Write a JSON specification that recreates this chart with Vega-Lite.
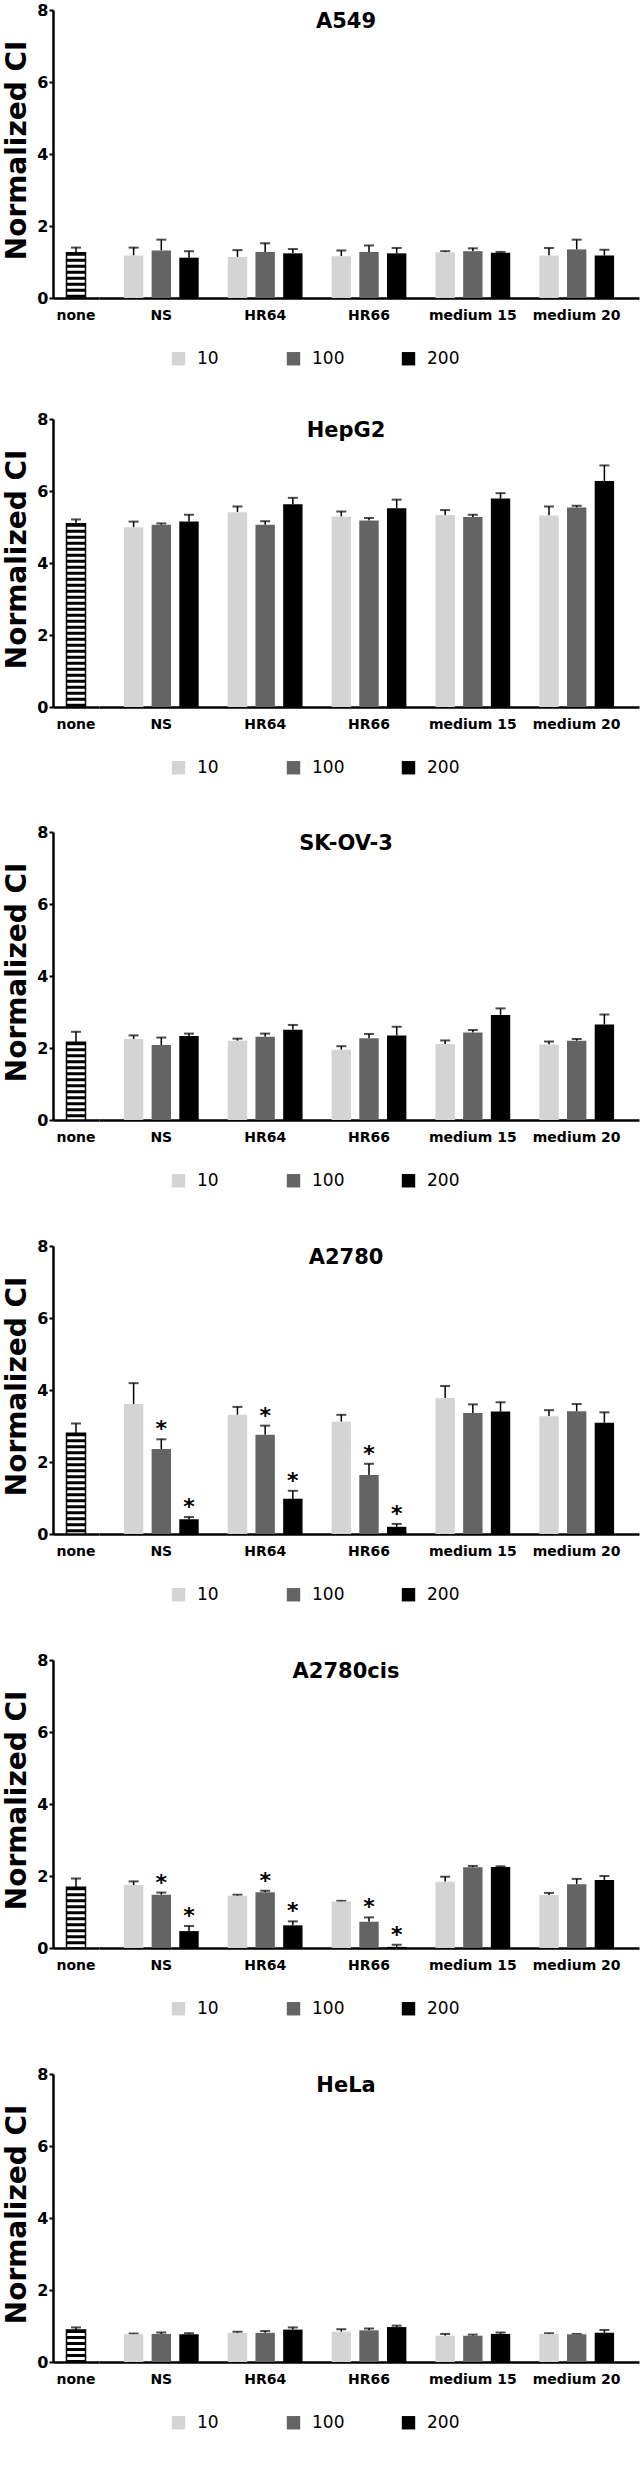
{
  "$schema": "https://vega.github.io/schema/vega-lite/v6.json",
  "padding": {"left": 3, "top": 2, "right": 2, "bottom": 2},
  "config": {
    "font": "DejaVu Sans",
    "view": {"stroke": null},
    "axis": {"domainColor": "#000", "domainWidth": 2.5, "tickColor": "#000", "tickWidth": 2, "labelColor": "#000", "labelFont": "DejaVu Sans", "labelFontWeight": "bold", "grid": false},
    "axisX": {"labelAngle": 0, "ticks": false, "labelPadding": 10, "labelFontSize": 14},
    "axisY": {"tickSize": 4, "labelPadding": 1, "labelFontSize": 16},
    "scale": {"bandPaddingInner": 0.25, "bandPaddingOuter": 0.125, "offsetBandPaddingInner": 0.3, "offsetBandPaddingOuter": 0.15},
    "legend": {"orient": "none", "legendX": 71, "legendY": 340, "direction": "horizontal", "columns": 3, "gridAlign": "all", "columnPadding": 55, "symbolType": "square", "symbolSize": 180, "symbolStrokeWidth": 0, "labelOffset": 10, "labelFont": "DejaVu Sans", "labelFontSize": 17, "labelColor": "#000"}
  },
  "datasets": {
    "ci": [
      {"cell": "A549", "group": "none", "dose": "none", "mean": 1.26, "upper": 1.40},
      {"cell": "A549", "group": "NS", "dose": "10", "mean": 1.18, "upper": 1.40},
      {"cell": "A549", "group": "NS", "dose": "100", "mean": 1.32, "upper": 1.62},
      {"cell": "A549", "group": "NS", "dose": "200", "mean": 1.12, "upper": 1.30},
      {"cell": "A549", "group": "HR64", "dose": "10", "mean": 1.14, "upper": 1.33},
      {"cell": "A549", "group": "HR64", "dose": "100", "mean": 1.28, "upper": 1.52},
      {"cell": "A549", "group": "HR64", "dose": "200", "mean": 1.24, "upper": 1.36},
      {"cell": "A549", "group": "HR66", "dose": "10", "mean": 1.16, "upper": 1.32},
      {"cell": "A549", "group": "HR66", "dose": "100", "mean": 1.28, "upper": 1.46},
      {"cell": "A549", "group": "HR66", "dose": "200", "mean": 1.24, "upper": 1.39},
      {"cell": "A549", "group": "medium 15", "dose": "10", "mean": 1.27, "upper": 1.30},
      {"cell": "A549", "group": "medium 15", "dose": "100", "mean": 1.30, "upper": 1.38},
      {"cell": "A549", "group": "medium 15", "dose": "200", "mean": 1.26, "upper": 1.28},
      {"cell": "A549", "group": "medium 20", "dose": "10", "mean": 1.18, "upper": 1.39},
      {"cell": "A549", "group": "medium 20", "dose": "100", "mean": 1.35, "upper": 1.62},
      {"cell": "A549", "group": "medium 20", "dose": "200", "mean": 1.18, "upper": 1.34},

      {"cell": "HepG2", "group": "none", "dose": "none", "mean": 5.09, "upper": 5.21},
      {"cell": "HepG2", "group": "NS", "dose": "10", "mean": 4.99, "upper": 5.15},
      {"cell": "HepG2", "group": "NS", "dose": "100", "mean": 5.06, "upper": 5.10},
      {"cell": "HepG2", "group": "NS", "dose": "200", "mean": 5.15, "upper": 5.34},
      {"cell": "HepG2", "group": "HR64", "dose": "10", "mean": 5.41, "upper": 5.57},
      {"cell": "HepG2", "group": "HR64", "dose": "100", "mean": 5.06, "upper": 5.16},
      {"cell": "HepG2", "group": "HR64", "dose": "200", "mean": 5.63, "upper": 5.81},
      {"cell": "HepG2", "group": "HR66", "dose": "10", "mean": 5.29, "upper": 5.43},
      {"cell": "HepG2", "group": "HR66", "dose": "100", "mean": 5.18, "upper": 5.25},
      {"cell": "HepG2", "group": "HR66", "dose": "200", "mean": 5.52, "upper": 5.76},
      {"cell": "HepG2", "group": "medium 15", "dose": "10", "mean": 5.33, "upper": 5.47},
      {"cell": "HepG2", "group": "medium 15", "dose": "100", "mean": 5.28, "upper": 5.34},
      {"cell": "HepG2", "group": "medium 15", "dose": "200", "mean": 5.79, "upper": 5.94},
      {"cell": "HepG2", "group": "medium 20", "dose": "10", "mean": 5.32, "upper": 5.57},
      {"cell": "HepG2", "group": "medium 20", "dose": "100", "mean": 5.54, "upper": 5.59},
      {"cell": "HepG2", "group": "medium 20", "dose": "200", "mean": 6.28, "upper": 6.71},

      {"cell": "SK-OV-3", "group": "none", "dose": "none", "mean": 2.16, "upper": 2.45},
      {"cell": "SK-OV-3", "group": "NS", "dose": "10", "mean": 2.25, "upper": 2.35},
      {"cell": "SK-OV-3", "group": "NS", "dose": "100", "mean": 2.08, "upper": 2.29},
      {"cell": "SK-OV-3", "group": "NS", "dose": "200", "mean": 2.33, "upper": 2.40},
      {"cell": "SK-OV-3", "group": "HR64", "dose": "10", "mean": 2.20, "upper": 2.26},
      {"cell": "SK-OV-3", "group": "HR64", "dose": "100", "mean": 2.31, "upper": 2.40},
      {"cell": "SK-OV-3", "group": "HR64", "dose": "200", "mean": 2.51, "upper": 2.64},
      {"cell": "SK-OV-3", "group": "HR66", "dose": "10", "mean": 1.95, "upper": 2.05},
      {"cell": "SK-OV-3", "group": "HR66", "dose": "100", "mean": 2.27, "upper": 2.39},
      {"cell": "SK-OV-3", "group": "HR66", "dose": "200", "mean": 2.35, "upper": 2.59},
      {"cell": "SK-OV-3", "group": "medium 15", "dose": "10", "mean": 2.11, "upper": 2.21},
      {"cell": "SK-OV-3", "group": "medium 15", "dose": "100", "mean": 2.43, "upper": 2.50},
      {"cell": "SK-OV-3", "group": "medium 15", "dose": "200", "mean": 2.92, "upper": 3.10},
      {"cell": "SK-OV-3", "group": "medium 20", "dose": "10", "mean": 2.10, "upper": 2.18},
      {"cell": "SK-OV-3", "group": "medium 20", "dose": "100", "mean": 2.20, "upper": 2.25},
      {"cell": "SK-OV-3", "group": "medium 20", "dose": "200", "mean": 2.65, "upper": 2.93},

      {"cell": "A2780", "group": "none", "dose": "none", "mean": 2.80, "upper": 3.07},
      {"cell": "A2780", "group": "NS", "dose": "10", "mean": 3.61, "upper": 4.19},
      {"cell": "A2780", "group": "NS", "dose": "100", "mean": 2.36, "upper": 2.63, "sig": "*"},
      {"cell": "A2780", "group": "NS", "dose": "200", "mean": 0.41, "upper": 0.47, "sig": "*"},
      {"cell": "A2780", "group": "HR64", "dose": "10", "mean": 3.31, "upper": 3.53},
      {"cell": "A2780", "group": "HR64", "dose": "100", "mean": 2.76, "upper": 3.01, "sig": "*"},
      {"cell": "A2780", "group": "HR64", "dose": "200", "mean": 0.98, "upper": 1.20, "sig": "*"},
      {"cell": "A2780", "group": "HR66", "dose": "10", "mean": 3.12, "upper": 3.31},
      {"cell": "A2780", "group": "HR66", "dose": "100", "mean": 1.64, "upper": 1.95, "sig": "*"},
      {"cell": "A2780", "group": "HR66", "dose": "200", "mean": 0.20, "upper": 0.28, "sig": "*"},
      {"cell": "A2780", "group": "medium 15", "dose": "10", "mean": 3.78, "upper": 4.11},
      {"cell": "A2780", "group": "medium 15", "dose": "100", "mean": 3.36, "upper": 3.60},
      {"cell": "A2780", "group": "medium 15", "dose": "200", "mean": 3.40, "upper": 3.66},
      {"cell": "A2780", "group": "medium 20", "dose": "10", "mean": 3.27, "upper": 3.44},
      {"cell": "A2780", "group": "medium 20", "dose": "100", "mean": 3.41, "upper": 3.61},
      {"cell": "A2780", "group": "medium 20", "dose": "200", "mean": 3.09, "upper": 3.38},

      {"cell": "A2780cis", "group": "none", "dose": "none", "mean": 1.69, "upper": 1.93},
      {"cell": "A2780cis", "group": "NS", "dose": "10", "mean": 1.75, "upper": 1.85},
      {"cell": "A2780cis", "group": "NS", "dose": "100", "mean": 1.48, "upper": 1.54, "sig": "*"},
      {"cell": "A2780cis", "group": "NS", "dose": "200", "mean": 0.47, "upper": 0.61, "sig": "*"},
      {"cell": "A2780cis", "group": "HR64", "dose": "10", "mean": 1.45, "upper": 1.48},
      {"cell": "A2780cis", "group": "HR64", "dose": "100", "mean": 1.55, "upper": 1.59, "sig": "*"},
      {"cell": "A2780cis", "group": "HR64", "dose": "200", "mean": 0.63, "upper": 0.74, "sig": "*"},
      {"cell": "A2780cis", "group": "HR66", "dose": "10", "mean": 1.29, "upper": 1.31},
      {"cell": "A2780cis", "group": "HR66", "dose": "100", "mean": 0.73, "upper": 0.85, "sig": "*"},
      {"cell": "A2780cis", "group": "HR66", "dose": "200", "mean": 0.03, "upper": 0.09, "sig": "*"},
      {"cell": "A2780cis", "group": "medium 15", "dose": "10", "mean": 1.84, "upper": 1.98},
      {"cell": "A2780cis", "group": "medium 15", "dose": "100", "mean": 2.24, "upper": 2.28},
      {"cell": "A2780cis", "group": "medium 15", "dose": "200", "mean": 2.25, "upper": 2.27},
      {"cell": "A2780cis", "group": "medium 20", "dose": "10", "mean": 1.47, "upper": 1.53},
      {"cell": "A2780cis", "group": "medium 20", "dose": "100", "mean": 1.77, "upper": 1.92},
      {"cell": "A2780cis", "group": "medium 20", "dose": "200", "mean": 1.89, "upper": 2.00},

      {"cell": "HeLa", "group": "none", "dose": "none", "mean": 0.89, "upper": 0.96},
      {"cell": "HeLa", "group": "NS", "dose": "10", "mean": 0.77, "upper": 0.79},
      {"cell": "HeLa", "group": "NS", "dose": "100", "mean": 0.78, "upper": 0.82},
      {"cell": "HeLa", "group": "NS", "dose": "200", "mean": 0.77, "upper": 0.80},
      {"cell": "HeLa", "group": "HR64", "dose": "10", "mean": 0.81, "upper": 0.84},
      {"cell": "HeLa", "group": "HR64", "dose": "100", "mean": 0.81, "upper": 0.86},
      {"cell": "HeLa", "group": "HR64", "dose": "200", "mean": 0.90, "upper": 0.96},
      {"cell": "HeLa", "group": "HR66", "dose": "10", "mean": 0.84, "upper": 0.91},
      {"cell": "HeLa", "group": "HR66", "dose": "100", "mean": 0.88, "upper": 0.93},
      {"cell": "HeLa", "group": "HR66", "dose": "200", "mean": 0.97, "upper": 1.01},
      {"cell": "HeLa", "group": "medium 15", "dose": "10", "mean": 0.73, "upper": 0.78},
      {"cell": "HeLa", "group": "medium 15", "dose": "100", "mean": 0.73, "upper": 0.76},
      {"cell": "HeLa", "group": "medium 15", "dose": "200", "mean": 0.78, "upper": 0.82},
      {"cell": "HeLa", "group": "medium 20", "dose": "10", "mean": 0.78, "upper": 0.80},
      {"cell": "HeLa", "group": "medium 20", "dose": "100", "mean": 0.77, "upper": 0.78},
      {"cell": "HeLa", "group": "medium 20", "dose": "200", "mean": 0.81, "upper": 0.89}
    ]
  },
  "spacing": 48,
  "resolve": {"scale": {"x": "independent", "y": "independent", "xOffset": "independent", "color": "independent"}, "legend": {"color": "independent"}},
  "vconcat": [
    {
      "spacing": 44,
      "resolve": {"scale": {"x": "independent", "y": "independent", "xOffset": "independent", "color": "independent"}, "legend": {"color": "independent"}},
      "vconcat": [
        {
          "spacing": 0,
          "resolve": {"scale": {"x": "independent", "y": "independent", "xOffset": "independent", "color": "independent"}},
          "hconcat": [
            {
              "width": 46, "height": 288,
              "data": {"name": "ci"},
              "transform": [{"filter": "datum.cell == 'A549' && datum.group == 'none'"}],
              "encoding": {
                "x": {"field": "group", "type": "nominal", "axis": {"title": null}},
                "y": {"field": "mean", "type": "quantitative", "title": null, "scale": {"domain": [0, 8], "nice": false}, "axis": {"values": [0, 2, 4, 6, 8]}}
              },
              "layer": [
                {"mark": {"type": "rule", "color": "#000", "strokeWidth": 1.5}, "encoding": {"y2": {"field": "upper"}}},
                {"mark": {"type": "tick", "color": "#000", "thickness": 2, "size": 10}, "encoding": {"y": {"field": "upper", "type": "quantitative", "title": null, "axis": {"values": [0, 2, 4, 6, 8]}}}},
                {"mark": {"type": "bar", "fill": "#fff", "stroke": "#000", "strokeWidth": 1.5, "width": 19}},
                {"mark": {"type": "rule", "color": "#000", "strokeWidth": 18, "strokeDash": [3, 3], "strokeCap": "butt"}, "encoding": {"y2": {"datum": 0}}},
                {"mark": {"type": "text", "text": "Normalized CI", "angle": 270, "fontSize": 28, "fontWeight": "bold", "align": "center", "baseline": "middle", "dy": -58, "color": "#000"}, "encoding": {"y": {"datum": 4.1}}}
              ]
            },
            {
              "width": 540, "height": 288,
              "data": {"name": "ci"},
              "transform": [{"filter": "datum.cell == 'A549' && datum.group != 'none'"}],
              "encoding": {
                "x": {"field": "group", "type": "nominal", "sort": ["NS", "HR64", "HR66", "medium 15", "medium 20"], "axis": {"title": null}},
                "xOffset": {"field": "dose", "type": "nominal", "sort": ["10", "100", "200"]},
                "y": {"field": "mean", "type": "quantitative", "scale": {"domain": [0, 8], "nice": false}, "axis": null}
              },
              "layer": [
                {"mark": {"type": "rule", "color": "#000", "strokeWidth": 1.5}, "encoding": {"y2": {"field": "upper"}}},
                {"mark": {"type": "tick", "color": "#000", "thickness": 2, "size": 10}, "encoding": {"y": {"field": "upper", "type": "quantitative", "axis": null}}},
                {"mark": {"type": "bar"}, "encoding": {"color": {"field": "dose", "type": "nominal", "scale": {"domain": ["10", "100", "200"], "range": ["#d4d4d4", "#646464", "#000000"]}, "legend": {"title": null}}}},
                {"transform": [{"filter": "datum.sig == '*'"}], "mark": {"type": "text", "fontSize": 22, "fontWeight": "bold", "baseline": "middle", "dy": -10, "color": "#000"}, "encoding": {"y": {"field": "upper", "type": "quantitative", "axis": null}, "text": {"field": "sig"}}},
                {"transform": [{"filter": "datum.group == 'HR66' && datum.dose == '100'"}], "mark": {"type": "text", "text": "A549", "fontSize": 21, "fontWeight": "bold", "baseline": "middle", "dx": -23, "color": "#000"}, "encoding": {"y": {"datum": 7.67}}}
              ]
            }
          ]
        },
        {
          "spacing": 0,
          "resolve": {"scale": {"x": "independent", "y": "independent", "xOffset": "independent", "color": "independent"}},
          "hconcat": [
            {
              "width": 46, "height": 288,
              "data": {"name": "ci"},
              "transform": [{"filter": "datum.cell == 'HepG2' && datum.group == 'none'"}],
              "encoding": {
                "x": {"field": "group", "type": "nominal", "axis": {"title": null}},
                "y": {"field": "mean", "type": "quantitative", "title": null, "scale": {"domain": [0, 8], "nice": false}, "axis": {"values": [0, 2, 4, 6, 8]}}
              },
              "layer": [
                {"mark": {"type": "rule", "color": "#000", "strokeWidth": 1.5}, "encoding": {"y2": {"field": "upper"}}},
                {"mark": {"type": "tick", "color": "#000", "thickness": 2, "size": 10}, "encoding": {"y": {"field": "upper", "type": "quantitative", "title": null, "axis": {"values": [0, 2, 4, 6, 8]}}}},
                {"mark": {"type": "bar", "fill": "#fff", "stroke": "#000", "strokeWidth": 1.5, "width": 19}},
                {"mark": {"type": "rule", "color": "#000", "strokeWidth": 18, "strokeDash": [3, 3], "strokeCap": "butt"}, "encoding": {"y2": {"datum": 0}}},
                {"mark": {"type": "text", "text": "Normalized CI", "angle": 270, "fontSize": 28, "fontWeight": "bold", "align": "center", "baseline": "middle", "dy": -58, "color": "#000"}, "encoding": {"y": {"datum": 4.1}}}
              ]
            },
            {
              "width": 540, "height": 288,
              "data": {"name": "ci"},
              "transform": [{"filter": "datum.cell == 'HepG2' && datum.group != 'none'"}],
              "encoding": {
                "x": {"field": "group", "type": "nominal", "sort": ["NS", "HR64", "HR66", "medium 15", "medium 20"], "axis": {"title": null}},
                "xOffset": {"field": "dose", "type": "nominal", "sort": ["10", "100", "200"]},
                "y": {"field": "mean", "type": "quantitative", "scale": {"domain": [0, 8], "nice": false}, "axis": null}
              },
              "layer": [
                {"mark": {"type": "rule", "color": "#000", "strokeWidth": 1.5}, "encoding": {"y2": {"field": "upper"}}},
                {"mark": {"type": "tick", "color": "#000", "thickness": 2, "size": 10}, "encoding": {"y": {"field": "upper", "type": "quantitative", "axis": null}}},
                {"mark": {"type": "bar"}, "encoding": {"color": {"field": "dose", "type": "nominal", "scale": {"domain": ["10", "100", "200"], "range": ["#d4d4d4", "#646464", "#000000"]}, "legend": {"title": null}}}},
                {"transform": [{"filter": "datum.sig == '*'"}], "mark": {"type": "text", "fontSize": 22, "fontWeight": "bold", "baseline": "middle", "dy": -10, "color": "#000"}, "encoding": {"y": {"field": "upper", "type": "quantitative", "axis": null}, "text": {"field": "sig"}}},
                {"transform": [{"filter": "datum.group == 'HR66' && datum.dose == '100'"}], "mark": {"type": "text", "text": "HepG2", "fontSize": 21, "fontWeight": "bold", "baseline": "middle", "dx": -23, "color": "#000"}, "encoding": {"y": {"datum": 7.67}}}
              ]
            }
          ]
        }
      ]
    },
    {
      "spacing": 49,
      "resolve": {"scale": {"x": "independent", "y": "independent", "xOffset": "independent", "color": "independent"}, "legend": {"color": "independent"}},
      "vconcat": [
        {
          "spacing": 0,
          "resolve": {"scale": {"x": "independent", "y": "independent", "xOffset": "independent", "color": "independent"}},
          "hconcat": [
            {
              "width": 46, "height": 288,
              "data": {"name": "ci"},
              "transform": [{"filter": "datum.cell == 'SK-OV-3' && datum.group == 'none'"}],
              "encoding": {
                "x": {"field": "group", "type": "nominal", "axis": {"title": null}},
                "y": {"field": "mean", "type": "quantitative", "title": null, "scale": {"domain": [0, 8], "nice": false}, "axis": {"values": [0, 2, 4, 6, 8]}}
              },
              "layer": [
                {"mark": {"type": "rule", "color": "#000", "strokeWidth": 1.5}, "encoding": {"y2": {"field": "upper"}}},
                {"mark": {"type": "tick", "color": "#000", "thickness": 2, "size": 10}, "encoding": {"y": {"field": "upper", "type": "quantitative", "title": null, "axis": {"values": [0, 2, 4, 6, 8]}}}},
                {"mark": {"type": "bar", "fill": "#fff", "stroke": "#000", "strokeWidth": 1.5, "width": 19}},
                {"mark": {"type": "rule", "color": "#000", "strokeWidth": 18, "strokeDash": [3, 3], "strokeCap": "butt"}, "encoding": {"y2": {"datum": 0}}},
                {"mark": {"type": "text", "text": "Normalized CI", "angle": 270, "fontSize": 28, "fontWeight": "bold", "align": "center", "baseline": "middle", "dy": -58, "color": "#000"}, "encoding": {"y": {"datum": 4.1}}}
              ]
            },
            {
              "width": 540, "height": 288,
              "data": {"name": "ci"},
              "transform": [{"filter": "datum.cell == 'SK-OV-3' && datum.group != 'none'"}],
              "encoding": {
                "x": {"field": "group", "type": "nominal", "sort": ["NS", "HR64", "HR66", "medium 15", "medium 20"], "axis": {"title": null}},
                "xOffset": {"field": "dose", "type": "nominal", "sort": ["10", "100", "200"]},
                "y": {"field": "mean", "type": "quantitative", "scale": {"domain": [0, 8], "nice": false}, "axis": null}
              },
              "layer": [
                {"mark": {"type": "rule", "color": "#000", "strokeWidth": 1.5}, "encoding": {"y2": {"field": "upper"}}},
                {"mark": {"type": "tick", "color": "#000", "thickness": 2, "size": 10}, "encoding": {"y": {"field": "upper", "type": "quantitative", "axis": null}}},
                {"mark": {"type": "bar"}, "encoding": {"color": {"field": "dose", "type": "nominal", "scale": {"domain": ["10", "100", "200"], "range": ["#d4d4d4", "#646464", "#000000"]}, "legend": {"title": null}}}},
                {"transform": [{"filter": "datum.sig == '*'"}], "mark": {"type": "text", "fontSize": 22, "fontWeight": "bold", "baseline": "middle", "dy": -10, "color": "#000"}, "encoding": {"y": {"field": "upper", "type": "quantitative", "axis": null}, "text": {"field": "sig"}}},
                {"transform": [{"filter": "datum.group == 'HR66' && datum.dose == '100'"}], "mark": {"type": "text", "text": "SK-OV-3", "fontSize": 21, "fontWeight": "bold", "baseline": "middle", "dx": -23, "color": "#000"}, "encoding": {"y": {"datum": 7.67}}}
              ]
            }
          ]
        },
        {
          "spacing": 0,
          "resolve": {"scale": {"x": "independent", "y": "independent", "xOffset": "independent", "color": "independent"}},
          "hconcat": [
            {
              "width": 46, "height": 288,
              "data": {"name": "ci"},
              "transform": [{"filter": "datum.cell == 'A2780' && datum.group == 'none'"}],
              "encoding": {
                "x": {"field": "group", "type": "nominal", "axis": {"title": null}},
                "y": {"field": "mean", "type": "quantitative", "title": null, "scale": {"domain": [0, 8], "nice": false}, "axis": {"values": [0, 2, 4, 6, 8]}}
              },
              "layer": [
                {"mark": {"type": "rule", "color": "#000", "strokeWidth": 1.5}, "encoding": {"y2": {"field": "upper"}}},
                {"mark": {"type": "tick", "color": "#000", "thickness": 2, "size": 10}, "encoding": {"y": {"field": "upper", "type": "quantitative", "title": null, "axis": {"values": [0, 2, 4, 6, 8]}}}},
                {"mark": {"type": "bar", "fill": "#fff", "stroke": "#000", "strokeWidth": 1.5, "width": 19}},
                {"mark": {"type": "rule", "color": "#000", "strokeWidth": 18, "strokeDash": [3, 3], "strokeCap": "butt"}, "encoding": {"y2": {"datum": 0}}},
                {"mark": {"type": "text", "text": "Normalized CI", "angle": 270, "fontSize": 28, "fontWeight": "bold", "align": "center", "baseline": "middle", "dy": -58, "color": "#000"}, "encoding": {"y": {"datum": 4.1}}}
              ]
            },
            {
              "width": 540, "height": 288,
              "data": {"name": "ci"},
              "transform": [{"filter": "datum.cell == 'A2780' && datum.group != 'none'"}],
              "encoding": {
                "x": {"field": "group", "type": "nominal", "sort": ["NS", "HR64", "HR66", "medium 15", "medium 20"], "axis": {"title": null}},
                "xOffset": {"field": "dose", "type": "nominal", "sort": ["10", "100", "200"]},
                "y": {"field": "mean", "type": "quantitative", "scale": {"domain": [0, 8], "nice": false}, "axis": null}
              },
              "layer": [
                {"mark": {"type": "rule", "color": "#000", "strokeWidth": 1.5}, "encoding": {"y2": {"field": "upper"}}},
                {"mark": {"type": "tick", "color": "#000", "thickness": 2, "size": 10}, "encoding": {"y": {"field": "upper", "type": "quantitative", "axis": null}}},
                {"mark": {"type": "bar"}, "encoding": {"color": {"field": "dose", "type": "nominal", "scale": {"domain": ["10", "100", "200"], "range": ["#d4d4d4", "#646464", "#000000"]}, "legend": {"title": null}}}},
                {"transform": [{"filter": "datum.sig == '*'"}], "mark": {"type": "text", "fontSize": 22, "fontWeight": "bold", "baseline": "middle", "dy": -10, "color": "#000"}, "encoding": {"y": {"field": "upper", "type": "quantitative", "axis": null}, "text": {"field": "sig"}}},
                {"transform": [{"filter": "datum.group == 'HR66' && datum.dose == '100'"}], "mark": {"type": "text", "text": "A2780", "fontSize": 21, "fontWeight": "bold", "baseline": "middle", "dx": -23, "color": "#000"}, "encoding": {"y": {"datum": 7.67}}}
              ]
            }
          ]
        },
        {
          "spacing": 0,
          "resolve": {"scale": {"x": "independent", "y": "independent", "xOffset": "independent", "color": "independent"}},
          "hconcat": [
            {
              "width": 46, "height": 288,
              "data": {"name": "ci"},
              "transform": [{"filter": "datum.cell == 'A2780cis' && datum.group == 'none'"}],
              "encoding": {
                "x": {"field": "group", "type": "nominal", "axis": {"title": null}},
                "y": {"field": "mean", "type": "quantitative", "title": null, "scale": {"domain": [0, 8], "nice": false}, "axis": {"values": [0, 2, 4, 6, 8]}}
              },
              "layer": [
                {"mark": {"type": "rule", "color": "#000", "strokeWidth": 1.5}, "encoding": {"y2": {"field": "upper"}}},
                {"mark": {"type": "tick", "color": "#000", "thickness": 2, "size": 10}, "encoding": {"y": {"field": "upper", "type": "quantitative", "title": null, "axis": {"values": [0, 2, 4, 6, 8]}}}},
                {"mark": {"type": "bar", "fill": "#fff", "stroke": "#000", "strokeWidth": 1.5, "width": 19}},
                {"mark": {"type": "rule", "color": "#000", "strokeWidth": 18, "strokeDash": [3, 3], "strokeCap": "butt"}, "encoding": {"y2": {"datum": 0}}},
                {"mark": {"type": "text", "text": "Normalized CI", "angle": 270, "fontSize": 28, "fontWeight": "bold", "align": "center", "baseline": "middle", "dy": -58, "color": "#000"}, "encoding": {"y": {"datum": 4.1}}}
              ]
            },
            {
              "width": 540, "height": 288,
              "data": {"name": "ci"},
              "transform": [{"filter": "datum.cell == 'A2780cis' && datum.group != 'none'"}],
              "encoding": {
                "x": {"field": "group", "type": "nominal", "sort": ["NS", "HR64", "HR66", "medium 15", "medium 20"], "axis": {"title": null}},
                "xOffset": {"field": "dose", "type": "nominal", "sort": ["10", "100", "200"]},
                "y": {"field": "mean", "type": "quantitative", "scale": {"domain": [0, 8], "nice": false}, "axis": null}
              },
              "layer": [
                {"mark": {"type": "rule", "color": "#000", "strokeWidth": 1.5}, "encoding": {"y2": {"field": "upper"}}},
                {"mark": {"type": "tick", "color": "#000", "thickness": 2, "size": 10}, "encoding": {"y": {"field": "upper", "type": "quantitative", "axis": null}}},
                {"mark": {"type": "bar"}, "encoding": {"color": {"field": "dose", "type": "nominal", "scale": {"domain": ["10", "100", "200"], "range": ["#d4d4d4", "#646464", "#000000"]}, "legend": {"title": null}}}},
                {"transform": [{"filter": "datum.sig == '*'"}], "mark": {"type": "text", "fontSize": 22, "fontWeight": "bold", "baseline": "middle", "dy": -10, "color": "#000"}, "encoding": {"y": {"field": "upper", "type": "quantitative", "axis": null}, "text": {"field": "sig"}}},
                {"transform": [{"filter": "datum.group == 'HR66' && datum.dose == '100'"}], "mark": {"type": "text", "text": "A2780cis", "fontSize": 21, "fontWeight": "bold", "baseline": "middle", "dx": -23, "color": "#000"}, "encoding": {"y": {"datum": 7.67}}}
              ]
            }
          ]
        },
        {
          "spacing": 0,
          "resolve": {"scale": {"x": "independent", "y": "independent", "xOffset": "independent", "color": "independent"}},
          "hconcat": [
            {
              "width": 46, "height": 288,
              "data": {"name": "ci"},
              "transform": [{"filter": "datum.cell == 'HeLa' && datum.group == 'none'"}],
              "encoding": {
                "x": {"field": "group", "type": "nominal", "axis": {"title": null}},
                "y": {"field": "mean", "type": "quantitative", "title": null, "scale": {"domain": [0, 8], "nice": false}, "axis": {"values": [0, 2, 4, 6, 8]}}
              },
              "layer": [
                {"mark": {"type": "rule", "color": "#000", "strokeWidth": 1.5}, "encoding": {"y2": {"field": "upper"}}},
                {"mark": {"type": "tick", "color": "#000", "thickness": 2, "size": 10}, "encoding": {"y": {"field": "upper", "type": "quantitative", "title": null, "axis": {"values": [0, 2, 4, 6, 8]}}}},
                {"mark": {"type": "bar", "fill": "#fff", "stroke": "#000", "strokeWidth": 1.5, "width": 19}},
                {"mark": {"type": "rule", "color": "#000", "strokeWidth": 18, "strokeDash": [3, 3], "strokeCap": "butt"}, "encoding": {"y2": {"datum": 0}}},
                {"mark": {"type": "text", "text": "Normalized CI", "angle": 270, "fontSize": 28, "fontWeight": "bold", "align": "center", "baseline": "middle", "dy": -58, "color": "#000"}, "encoding": {"y": {"datum": 4.1}}}
              ]
            },
            {
              "width": 540, "height": 288,
              "data": {"name": "ci"},
              "transform": [{"filter": "datum.cell == 'HeLa' && datum.group != 'none'"}],
              "encoding": {
                "x": {"field": "group", "type": "nominal", "sort": ["NS", "HR64", "HR66", "medium 15", "medium 20"], "axis": {"title": null}},
                "xOffset": {"field": "dose", "type": "nominal", "sort": ["10", "100", "200"]},
                "y": {"field": "mean", "type": "quantitative", "scale": {"domain": [0, 8], "nice": false}, "axis": null}
              },
              "layer": [
                {"mark": {"type": "rule", "color": "#000", "strokeWidth": 1.5}, "encoding": {"y2": {"field": "upper"}}},
                {"mark": {"type": "tick", "color": "#000", "thickness": 2, "size": 10}, "encoding": {"y": {"field": "upper", "type": "quantitative", "axis": null}}},
                {"mark": {"type": "bar"}, "encoding": {"color": {"field": "dose", "type": "nominal", "scale": {"domain": ["10", "100", "200"], "range": ["#d4d4d4", "#646464", "#000000"]}, "legend": {"title": null}}}},
                {"transform": [{"filter": "datum.sig == '*'"}], "mark": {"type": "text", "fontSize": 22, "fontWeight": "bold", "baseline": "middle", "dy": -10, "color": "#000"}, "encoding": {"y": {"field": "upper", "type": "quantitative", "axis": null}, "text": {"field": "sig"}}},
                {"transform": [{"filter": "datum.group == 'HR66' && datum.dose == '100'"}], "mark": {"type": "text", "text": "HeLa", "fontSize": 21, "fontWeight": "bold", "baseline": "middle", "dx": -23, "color": "#000"}, "encoding": {"y": {"datum": 7.67}}}
              ]
            }
          ]
        }
      ]
    }
  ]
}
